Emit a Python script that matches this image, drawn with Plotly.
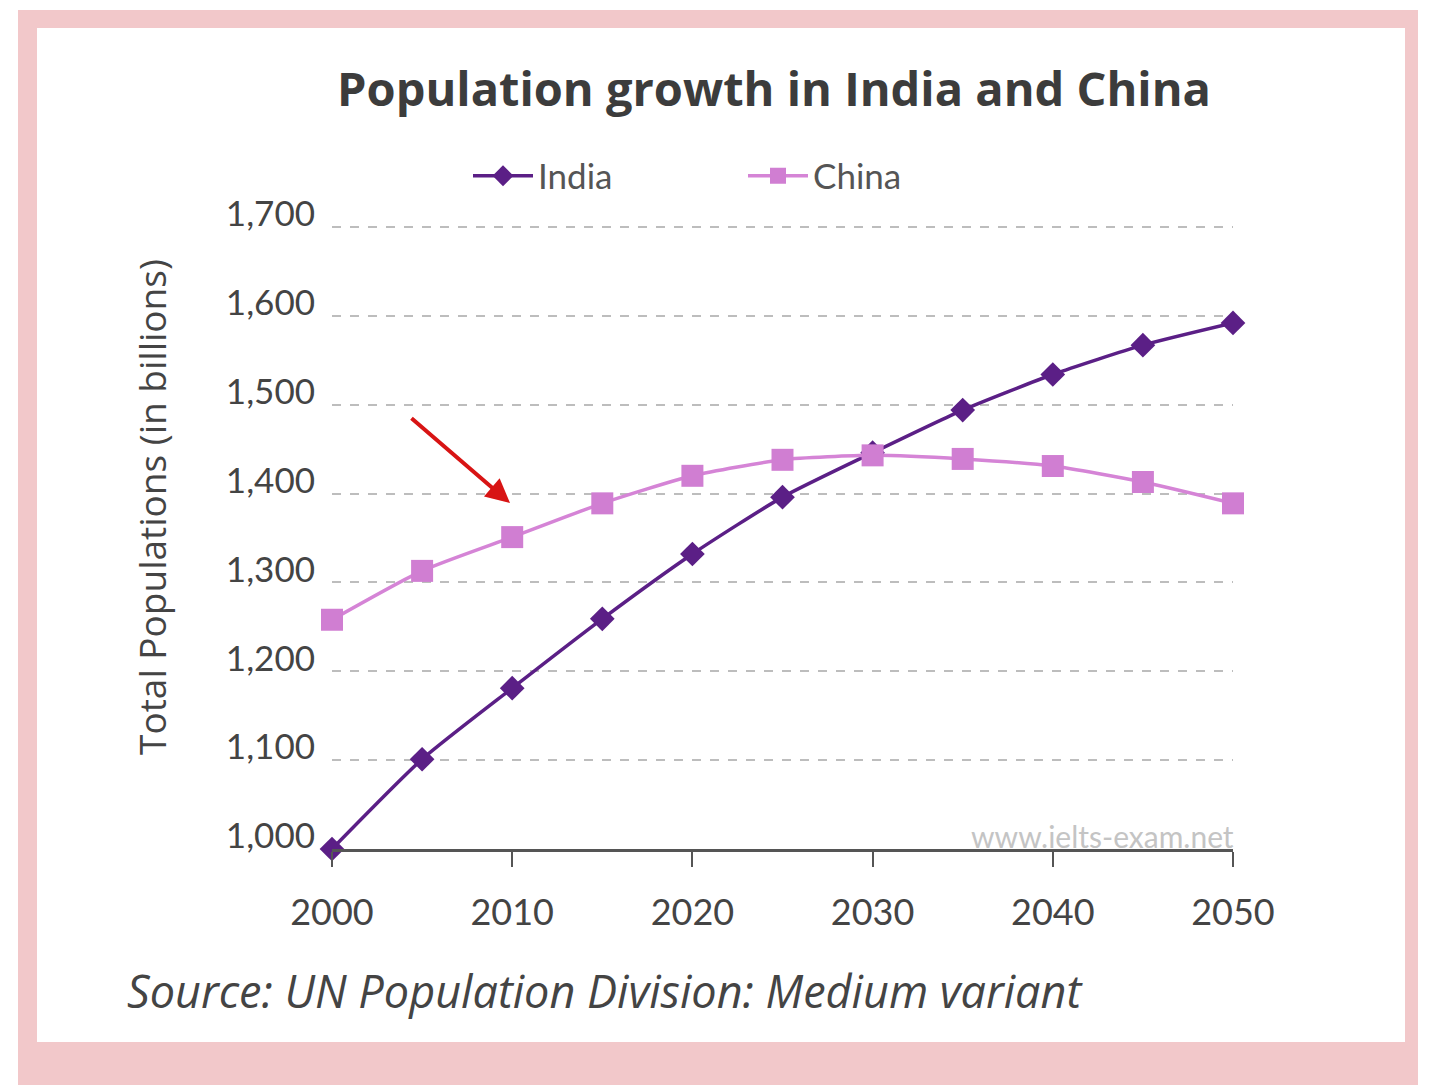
import plotly.graph_objects as go

years = [2000, 2005, 2010, 2015, 2020, 2025, 2030, 2035, 2040, 2045, 2050]
india = [1000, 1101, 1181, 1259, 1332, 1396, 1446, 1494, 1534, 1567, 1592]
china = [1258, 1313, 1351, 1389, 1420, 1438, 1443, 1439, 1431, 1413, 1389]
x_ticks = [2000, 2010, 2020, 2030, 2040, 2050]
y_ticks = [1000, 1100, 1200, 1300, 1400, 1500, 1600, 1700]
y_tick_text = ["1,000", "1,100", "1,200", "1,300", "1,400", "1,500", "1,600", "1,700"]

W, H = 1440, 1085
L, R, T, B = 332, 1233, 223, 849
Y_TOP = 1000 + 700 * (849 - 223) / (849 - 227)

def px(x):
    return (x - L) / (R - L)

def py(y):
    return (B - y) / (B - T)

TICKFONT = "Lato, sans-serif"

fig = go.Figure()
fig.add_trace(go.Scatter(
    x=years, y=india, name="India", mode="lines+markers",
    line=dict(color="#5b1f86", width=3.5, shape="spline", smoothing=0.6),
    marker=dict(symbol="diamond", size=19, color="#5b1f86"),
    cliponaxis=False,
))
fig.add_trace(go.Scatter(
    x=years, y=china, name="China", mode="lines+markers",
    line=dict(color="#d584d6", width=3.5, shape="spline", smoothing=0.6),
    marker=dict(symbol="square", size=22, color="#d07ed2"),
    cliponaxis=False,
))

fig.update_layout(
    width=W, height=H,
    margin=dict(l=L, r=W - R, t=T, b=H - B, pad=0),
    paper_bgcolor="white",
    plot_bgcolor="rgba(0,0,0,0)",
    title=dict(
        text="<b>Population growth in India and China</b>",
        x=774 / W, y=1 - 90 / H, xref="container", yref="container",
        xanchor="center", yanchor="middle",
        font=dict(family="Open Sans, sans-serif", size=47, color="#3c3c3c"),
    ),
    legend=dict(
        orientation="h", x=px(468), y=py(176), xanchor="left", yanchor="middle",
        font=dict(family=TICKFONT, size=35, color="#555555"),
        bgcolor="rgba(0,0,0,0)", itemwidth=60, entrywidth=200, entrywidthmode="pixels",
        tracegroupgap=0,
    ),
    xaxis=dict(
        range=[2000, 2050], tickvals=x_ticks, ticktext=[str(v) for v in x_ticks],
        showgrid=False, zeroline=False,
        showline=True, linecolor="#555555", linewidth=3,
        ticks="outside", ticklen=15, tickwidth=2, tickcolor="#555555",
        tickfont=dict(family=TICKFONT, size=36, color="#444444"),
        ticklabelstandoff=15,
        fixedrange=True,
    ),
    yaxis=dict(
        range=[1000, Y_TOP], tickvals=y_ticks, ticktext=y_tick_text,
        showgrid=True, gridcolor="#bdbdbd", gridwidth=2, griddash="dash",
        zeroline=False, showline=False, ticks="",
        tickfont=dict(family=TICKFONT, size=35, color="#444444"),
        ticklabelstandoff=16, ticklabelshift=-13,
        fixedrange=True,
    ),
    showlegend=True,
)

shapes = [
    dict(type="rect", xref="paper", yref="paper", layer="below",
         x0=px(18), x1=px(1418), y0=py(1090), y1=py(10),
         fillcolor="#f2c8ca", line=dict(width=0)),
    dict(type="rect", xref="paper", yref="paper", layer="below",
         x0=px(37), x1=px(1405), y0=py(1042), y1=py(28),
         fillcolor="white", line=dict(width=0)),
]
fig.update_layout(shapes=shapes)

fig.add_annotation(
    text="Total Populations (in billions)", textangle=-90,
    xref="paper", yref="paper", x=px(151), y=py(507),
    xanchor="center", yanchor="middle", showarrow=False,
    font=dict(family="Open Sans, sans-serif", size=37, color="#444444"),
)
fig.add_annotation(
    text="<i>Source: UN Population Division: Medium variant</i>",
    xref="paper", yref="paper", x=px(125), y=py(990),
    xanchor="left", yanchor="middle", showarrow=False,
    font=dict(family="Open Sans, sans-serif", size=45, color="#444444"),
)
fig.add_annotation(
    text="www.ielts-exam.net",
    xref="paper", yref="paper", x=px(1236), y=py(836),
    xanchor="right", yanchor="middle", showarrow=False,
    font=dict(family=TICKFONT, size=30, color="#c4c4c4"),
)
fig.add_annotation(
    text="", xref="paper", yref="paper", x=px(510), y=py(503),
    ax=-100, ay=-86, axref="pixel", ayref="pixel",
    showarrow=True, arrowhead=2, arrowsize=1.2, arrowwidth=4, arrowcolor="#d81414",
)

fig.write_html("out.html")
